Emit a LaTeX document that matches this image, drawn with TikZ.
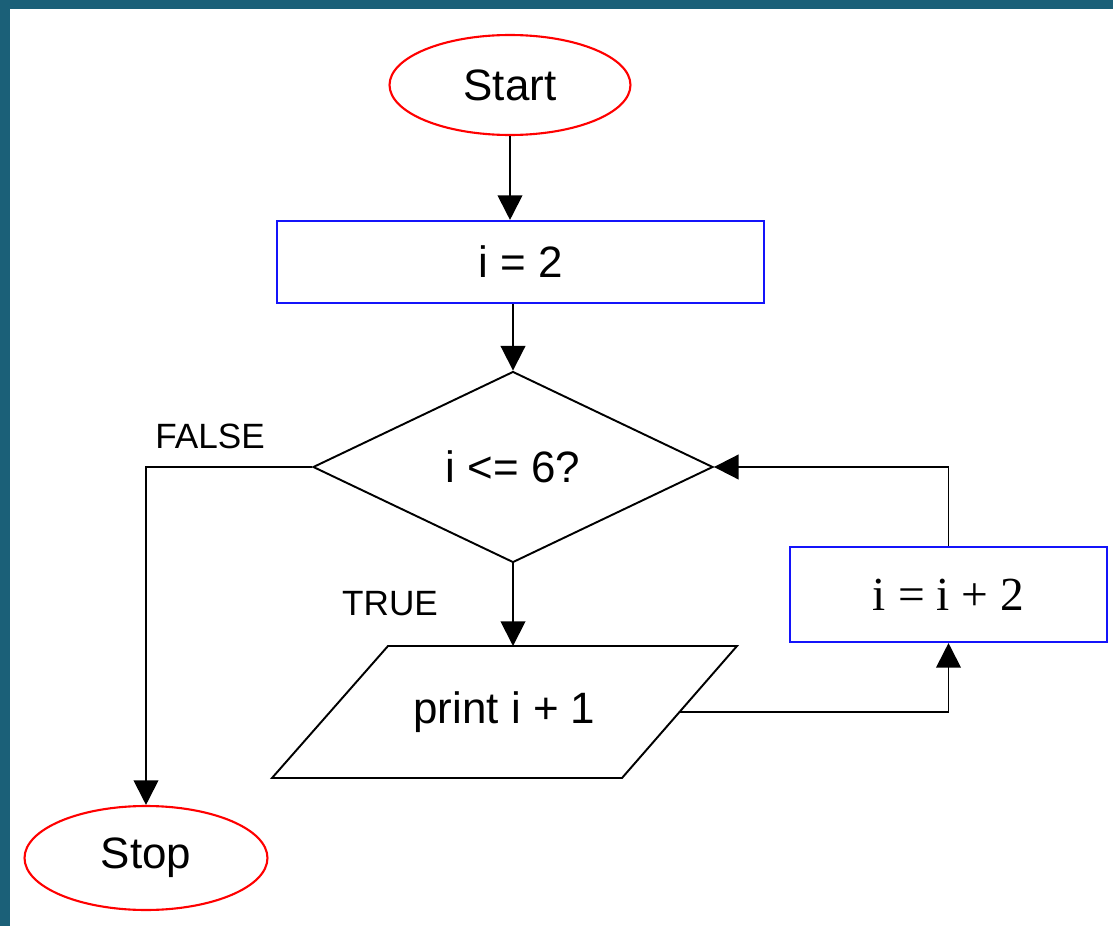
\documentclass[tikz,border=0pt]{standalone}
\usepackage{fontspec}
\setmainfont{Liberation Sans}
\newfontfamily\serifnum{Liberation Serif}
\usepackage{tikz}
\usetikzlibrary{arrows.meta,shapes.geometric,calc}
\definecolor{frame}{RGB}{27,96,120}
\definecolor{boxblue}{RGB}{20,20,250}

\begin{document}
\begin{tikzpicture}[x=0.02cm, y=-0.02cm, ->, >={Triangle[length=14pt,width=14pt]},
 line width=1.1pt, font=\fontsize{25}{30}\selectfont]
 \useasboundingbox (0, 0) rectangle (1113, 926);
 \fill[frame] (0, 0) rectangle (1113, 926);
 \fill[white] (10, 9) rectangle (1113, 926);
 \node[draw=red, line width=1.2pt, ellipse, minimum width=4.82cm, minimum height=2cm] (start) at (510, 85) {Start};
 \node[draw=boxblue, line width=1.2pt, minimum width=9.74cm, minimum height=1.64cm] (init) at (520.5, 262) {i = 2};
 \node[draw, diamond, aspect=2.1, minimum width=8cm, minimum height=3.82cm, inner sep=0pt] (cond) at (513, 467) {i <= 6?};
 % print box, drawn by hand
 \draw[-] (388, 646) -- (737, 646) -- (622, 778) -- (272, 778) -- cycle;
 \node (out) at (504.5, 712) {print i + 1};
 \coordinate (outtop) at (513, 646);
 \coordinate (outright) at (679.5, 712);
 \node[draw=boxblue, line width=1.2pt, minimum width=6.34cm, minimum height=1.9cm] (inc) at (948.5, 594.5) {\serifnum\fontsize{27}{32}\selectfont i = i + 2};
 \node[draw=red, line width=1.2pt, ellipse, minimum width=4.86cm, minimum height=2.08cm] (stop) at (146, 858) {Stop};
 \node[font=\fontsize{20}{24}\selectfont] (false) at (210, 436) {FALSE};
 \node[font=\fontsize{20}{24}\selectfont] (true) at (390, 604) {TRUE};
 % connectors
 \draw (start) -- (start |- init.north);
 \draw (init.south -| cond.north) -- (cond.north);
 \draw (cond.west) -| (stop.north);
 \draw (cond.south) -- (outtop);
 \draw (outright) -| (inc.south);
 \draw (inc.north) |- (cond.east);
\end{tikzpicture}
\end{document}
